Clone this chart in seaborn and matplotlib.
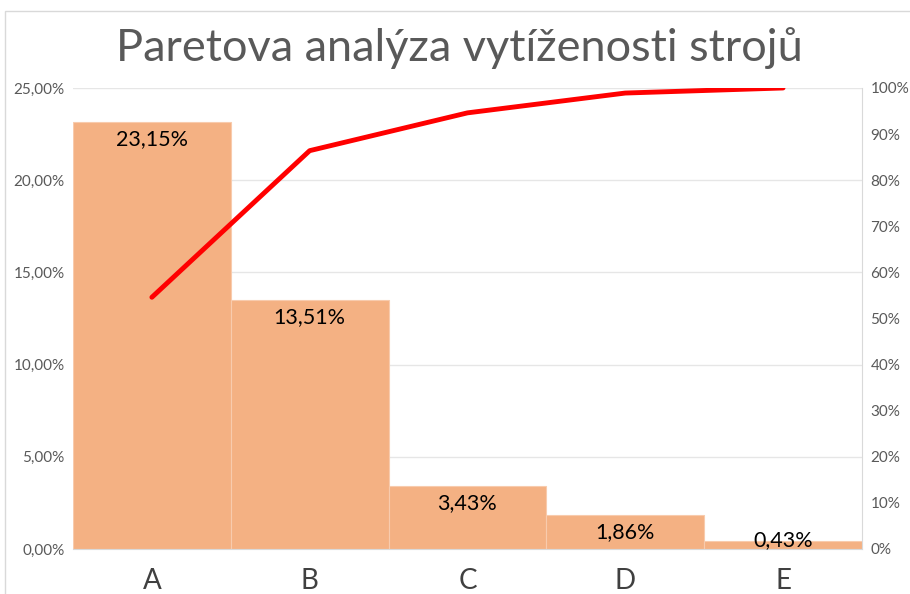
import numpy as np
import pandas as pd
import seaborn as sns
import matplotlib.pyplot as plt
from matplotlib.patches import Rectangle
from matplotlib.ticker import FuncFormatter

# values
machines = ['A', 'B', 'C', 'D', 'E']
utilization = [23.15, 13.51, 3.43, 1.86, 0.43]
cumulative = [54.6, 86.4, 94.6, 98.9, 100.0]
value_labels = ['23,15%', '13,51%', '3,43%', '1,86%', '0,43%']

sns.set_style('white')
plt.rcParams['font.family'] = ['Lato', 'DejaVu Sans']

df = pd.DataFrame({'stroj': machines, 'vytizenost': utilization, 'kumul': cumulative})

fig = plt.figure(figsize=(9.1, 5.94), dpi=100)
ax = fig.add_axes([0.0802, 0.0758, 0.867, 0.7761])

sns.barplot(data=df, x='stroj', y='vytizenost', color='#F4B183', saturation=1,
            width=1.0, edgecolor='#F8CBAD', linewidth=0.8, ax=ax, zorder=2)
ax.set_ylim(0, 25)
ax.set_yticks(np.arange(0, 25.01, 5))
ax.yaxis.set_major_formatter(FuncFormatter(lambda v, p: f'{v:.2f}'.replace('.', ',') + '%'))
ax.grid(axis='y', color='#E6E6E6', linewidth=1, zorder=0)
ax.set_axisbelow(True)
ax.set_xlabel('')
ax.set_ylabel('')
ax.tick_params(axis='y', labelsize=11, colors='#595959', length=0, pad=6)
ax.tick_params(axis='x', labelsize=20, colors='#404040', length=0, pad=14)
for s in ['top', 'left', 'right']:
    ax.spines[s].set_visible(False)
ax.spines['bottom'].set_color('#D9D9D9')

# labels sit just below the bar top, but never below the baseline
for i, (v, lab) in enumerate(zip(utilization, value_labels)):
    ax.text(i, max(v - 0.93, 0.49), lab, ha='center', va='center', fontsize=15.5,
            color='black', zorder=5)

ax2 = ax.twinx()
sns.lineplot(data=df, x='stroj', y='kumul', sort=False, color='#FF0000', linewidth=3.5,
             ax=ax2, solid_capstyle='round')
ax2.set_ylim(0, 100)
ax2.set_yticks(np.arange(0, 101, 10))
ax2.yaxis.set_major_formatter(FuncFormatter(lambda v, p: f'{v:.0f}%'))
ax2.tick_params(axis='y', labelsize=11, colors='#595959', length=0, pad=6)
ax2.set_ylabel('')
for s in ['top', 'left', 'bottom']:
    ax2.spines[s].set_visible(False)
ax2.spines['right'].set_color('#D9D9D9')
ax.set_xlim(-0.5, 4.5)

fig.text(0.505, 0.919, 'Paretova analýza vytíženosti strojů', ha='center', va='center',
         fontsize=32.5, color='#595959')

fig.patches.append(Rectangle((5 / 910, -0.05), 1.0, 1 - 11 / 594 + 0.05,
                             transform=fig.transFigure, fill=False,
                             edgecolor='#D9D9D9', linewidth=1))

fig.savefig('out.png', dpi=100)
